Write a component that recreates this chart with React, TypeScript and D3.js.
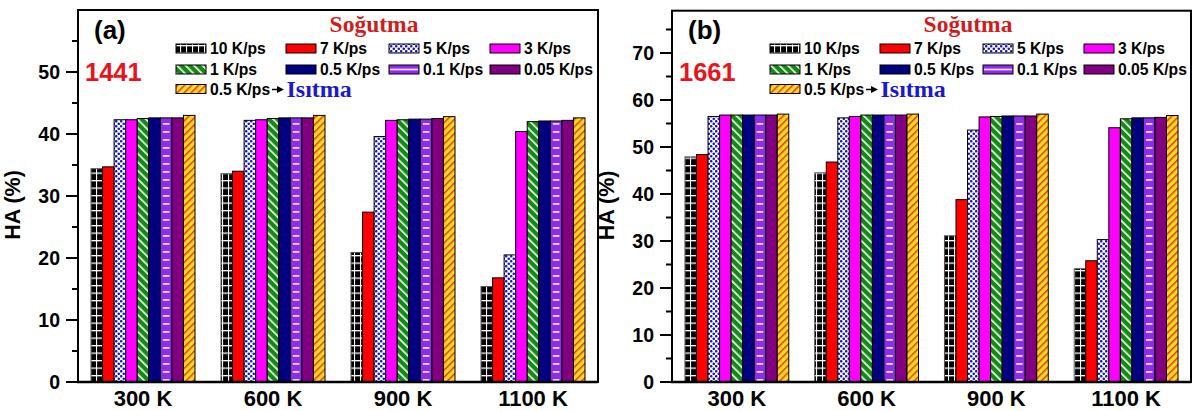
import React from "react";
import * as d3 from "d3";

const categories = ["300 K", "600 K", "900 K", "1100 K"];
const seriesNames = ["10 K/ps", "7 K/ps", "5 K/ps", "3 K/ps", "1 K/ps", "0.5 K/ps", "0.1 K/ps", "0.05 K/ps", "0.5 K/ps"];

// Panel (a) – 1441
const a_10 = [34.4, 33.6, 20.9, 15.4];
const a_7 = [34.7, 34.0, 27.4, 16.8];
const a_5 = [42.3, 42.2, 39.6, 20.5];
const a_3 = [42.3, 42.3, 42.2, 40.4];
const a_1 = [42.5, 42.5, 42.3, 42.0];
const a_05 = [42.6, 42.6, 42.4, 42.1];
const a_01 = [42.6, 42.6, 42.4, 42.1];
const a_005 = [42.6, 42.6, 42.5, 42.2];
const a_heat = [43.0, 43.0, 42.8, 42.6];

// Panel (b) – 1661
const b_10 = [47.9, 44.5, 31.1, 24.1];
const b_7 = [48.4, 46.8, 38.8, 25.8];
const b_5 = [56.5, 56.2, 53.6, 30.3];
const b_3 = [56.8, 56.5, 56.4, 54.1];
const b_1 = [56.8, 56.8, 56.5, 56.0];
const b_05 = [56.8, 56.8, 56.6, 56.2];
const b_01 = [56.8, 56.8, 56.6, 56.2];
const b_005 = [56.8, 56.8, 56.6, 56.3];
const b_heat = [57.0, 57.0, 57.0, 56.7];

const seriesA = [a_10, a_7, a_5, a_3, a_1, a_05, a_01, a_005, a_heat];
const seriesB = [b_10, b_7, b_5, b_3, b_1, b_05, b_01, b_005, b_heat];

const ticksA = [0, 10, 20, 30, 40, 50];
const ticksB = [0, 10, 20, 30, 40, 50, 60, 70];

const fills = [
  "url(#p10)",
  "#ff0000",
  "url(#p5)",
  "#ff00ff",
  "url(#p1)",
  "#000080",
  "#8c2cf0",
  "#800080",
  "url(#pheat)",
];
const strokes = ["#555", "#000", "#000", "#000", "#000", "#000", "#000", "#000", "#000"];

const SANS = "'Liberation Sans', Arial, sans-serif";
const SERIF = "'Liberation Serif', 'Times New Roman', serif";

type PanelProps = {
  x0: number;
  x1: number;
  y0: number;
  y1: number;
  ymax: number;
  ticks: number[];
  tag: string;
  code: string;
  series: number[][];
};

const colOff = [0, 110, 213, 314];

function Panel({ x0, x1, y0, y1, ymax, ticks, tag, code, series }: PanelProps) {
  const y = d3.scaleLinear().domain([0, ymax]).range([y1, y0]);
  const x = d3.scaleBand<string>().domain(categories).range([x0, x1]).paddingInner(0.2).paddingOuter(0.1);
  const xs = d3.scaleBand<number>().domain(d3.range(seriesNames.length)).range([0, x.bandwidth()]);
  const minor = d3.range(5, ymax, 10);

  const legendRows = [
    [0, 1, 2, 3],
    [4, 5, 6, 7],
    [8],
  ];
  const rowY = [48.5, 69.5, 89];

  return (
    <g>
      {series.map((vals, si) => (
        <g key={si}>
          {vals.map((v, ci) => {
            const bx = (x(categories[ci]) as number) + (xs(si) as number);
            const bw = xs.bandwidth();
            const by = y(v);
            const bh = y(0) - y(v);
            return (
              <g key={ci}>
                <rect x={bx} y={by} width={bw} height={bh} fill={fills[si]} stroke={strokes[si]} strokeWidth={1} />
                {si === 6 && (
                  <rect x={bx + 2.5} y={by + 2} width={bw - 5} height={bh - 2} fill="url(#p01dash)" />
                )}
              </g>
            );
          })}
        </g>
      ))}

      <rect x={x0} y={y0} width={x1 - x0} height={y1 - y0} fill="none" stroke="#000" strokeWidth={2} />
      <line x1={x0 - 1} x2={x1} y1={y1} y2={y1} stroke="#000" strokeWidth={2.5} />

      {ticks.map((t) => (
        <g key={t}>
          <line x1={x0 - 12} x2={x0} y1={y(t)} y2={y(t)} stroke="#000" strokeWidth={2} />
          <text x={x0 - 18} y={y(t) + 7} textAnchor="end" fontFamily={SANS} fontWeight="bold" fontSize={19.5}>
            {t}
          </text>
        </g>
      ))}
      {minor.map((t) => (
        <line key={t} x1={x0 - 6} x2={x0} y1={y(t)} y2={y(t)} stroke="#000" strokeWidth={2} />
      ))}

      <text
        transform={`translate(${x0 - 58},${(y0 + y1) / 2 + 9}) rotate(-90)`}
        textAnchor="middle"
        fontFamily={SANS}
        fontWeight="bold"
        fontSize={21.5}
      >
        HA (%)
      </text>

      {categories.map((c) => (
        <text
          key={c}
          x={(x(c) as number) + x.bandwidth() / 2}
          y={405.5}
          textAnchor="middle"
          fontFamily={SANS}
          fontWeight="bold"
          fontSize={22}
        >
          {c}
        </text>
      ))}

      <text x={x0 + 16} y={38.5} fontFamily={SANS} fontWeight="bold" fontSize={26}>
        {tag}
      </text>
      <text x={x0 + 7} y={81} fontFamily={SANS} fontWeight="bold" fontSize={25.5} fill="#e8141c">
        {code}
      </text>

      <text x={x0 + 296} y={31.5} textAnchor="middle" fontFamily={SERIF} fontWeight="bold" fontSize={23.5} fill="#d01c1c">
        Soğutma
      </text>
      {legendRows.map((row, ri) =>
        row.map((si, ci) => {
          const lx = x0 + 98 + colOff[ci];
          const cy = rowY[ri];
          return (
            <g key={si}>
              <rect x={lx} y={cy - 4.5} width={30} height={9} fill={fills[si]} stroke="#000" strokeWidth={1} />
              {si === 6 && <line x1={lx + 1} x2={lx + 29} y1={cy} y2={cy} stroke="#f5d6ff" strokeWidth={1.8} />}
              <text x={lx + 34} y={cy + 5.5} fontFamily={SANS} fontWeight="bold" fontSize={15.7}>
                {seriesNames[si]}
              </text>
            </g>
          );
        })
      )}
      <line x1={x0 + 194} x2={x0 + 201} y1={rowY[2] + 0.5} y2={rowY[2] + 0.5} stroke="#000" strokeWidth={1.5} />
      <path
        d={`M${x0 + 199},${rowY[2] - 3} L${x0 + 206},${rowY[2] + 0.5} L${x0 + 199},${rowY[2] + 4} Z`}
        fill="#000"
      />
      <text x={x0 + 208.5} y={rowY[2] + 7.5} fontFamily={SERIF} fontWeight="bold" fontSize={24} fill="#1a1acc">
        Isıtma
      </text>
    </g>
  );
}

export default function App() {
  return (
    <svg
      width={1192}
      height={411}
      viewBox="0 0 1192 411"
      style={{ position: "absolute", left: 0, top: 0, background: "#fff" }}
    >
      <defs>
        <pattern id="p10" width={6} height={7.5} patternUnits="userSpaceOnUse">
          <rect width={6} height={7.5} fill="#000" />
          <rect x={0} y={0} width={6} height={1.3} fill="#fff" />
          <rect x={0} y={0} width={1.1} height={7.5} fill="#fff" />
        </pattern>
        <pattern id="p5" width={5} height={5} patternUnits="userSpaceOnUse">
          <rect width={5} height={5} fill="#fff" />
          <circle cx={1.25} cy={1.25} r={1.3} fill="#1a1acc" />
          <circle cx={3.75} cy={3.75} r={1.3} fill="#1a1acc" />
        </pattern>
        <pattern id="p1" width={6} height={6} patternUnits="userSpaceOnUse" patternTransform="rotate(-45)">
          <rect width={6} height={6} fill="#138a13" />
          <rect x={0} y={0} width={1.6} height={6} fill="#fff" />
        </pattern>
        <pattern id="pheat" width={5} height={5} patternUnits="userSpaceOnUse" patternTransform="rotate(45)">
          <rect width={5} height={5} fill="#ffdc20" />
          <rect x={0} y={0} width={1.5} height={5} fill="#dd3a18" />
        </pattern>
        <pattern id="p01dash" width={20} height={8} patternUnits="userSpaceOnUse">
          <rect x={0} y={3} width={20} height={1.8} fill="#f5d6ff" />
        </pattern>
      </defs>
      <Panel x0={78} x1={598} y0={10} y1={382} ymax={60} ticks={ticksA} tag="(a)" code="1441" series={seriesA} />
      <Panel x0={672} x1={1191} y0={10.7} y1={382} ymax={79} ticks={ticksB} tag="(b)" code="1661" series={seriesB} />
    </svg>
  );
}
